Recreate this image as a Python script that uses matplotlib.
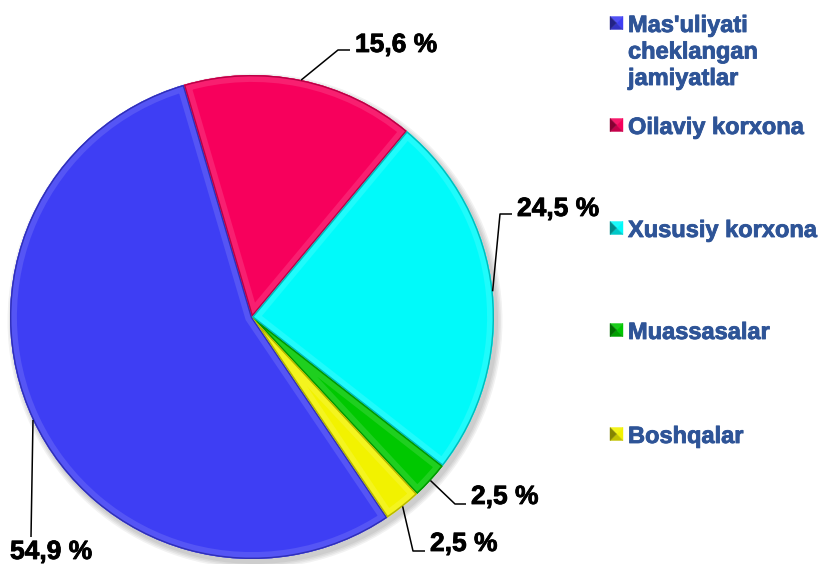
import matplotlib
matplotlib.use('Agg')
import matplotlib.pyplot as plt
from matplotlib.patches import Wedge, Polygon, Circle
import matplotlib.colors as mc
import matplotlib.patheffects as pe
import numpy as np

categories = ["Mas'uliyati\ncheklangan\njamiyatlar", "Oilaviy korxona",
              "Xususiy korxona", "Muassasalar", "Boshqalar"]
values = [54.9, 15.6, 24.5, 2.5, 2.5]
value_labels = ["54,9 %", "15,6 %", "24,5 %", "2,5 %", "2,5 %"]
colors = ["#3E3EF4", "#F7005C", "#00FAFA", "#00C800", "#F2F200"]

W, H = 823, 564
FONT = "Liberation Sans"
LEG_COLOR = "#2E5497"

fig = plt.figure(figsize=(W / 100, H / 100), dpi=100)
ax = fig.add_axes([0, 0, 1, 1])

cx, cy, R = 252, H - 317, 242


def mix(c, other, t):
    a = np.array(mc.to_rgb(c))
    b = np.array(mc.to_rgb(other))
    return tuple(a * (1 - t) + b * t)


# soft shadow
for i, a in enumerate([0.05, 0.05, 0.05, 0.05]):
    ax.add_patch(Circle((cx + 3, cy - 4), R + 1 + i * 1.5, facecolor='black',
                        alpha=a, edgecolor='none', zorder=0))

wedges, _ = ax.pie(values, colors=colors, startangle=-56, counterclock=False,
                   center=(cx, cy), radius=R, frame=True,
                   wedgeprops=dict(linewidth=0))

# bevel effect
for w, c in zip(wedges, colors):
    w.set_zorder(1)
    band = Wedge((cx, cy), R, w.theta1, w.theta2, facecolor='none',
                 edgecolor=mix(c, 'white', 0.12), linewidth=10, zorder=2)
    ax.add_patch(band)
    band.set_clip_path(w)
    edge = Wedge((cx, cy), R, w.theta1, w.theta2, facecolor='none',
                 edgecolor=mix(c, 'black', 0.25), linewidth=2.0, zorder=3)
    ax.add_patch(edge)
    edge.set_clip_path(w)

# data labels with leader lines (layout in pixel coords from top)
elbows = [[(31, 537)], [(338, 50), (350, 50)], [(500, 214), (512, 214)],
          [(455, 504), (466, 504)], [(413, 551), (425, 551)]]
text_pos = [(10, 552), (355, 45), (517, 209), (471, 497), (430, 544)]
for w, lab, el, tp in zip(wedges, value_labels, elbows, text_pos):
    mid = np.deg2rad((w.theta1 + w.theta2) / 2)
    ax_pt = (cx + R * np.cos(mid), cy + R * np.sin(mid))
    xs = [ax_pt[0]] + [p[0] for p in el]
    ys = [ax_pt[1]] + [H - p[1] for p in el]
    ax.plot(xs, ys, color='black', lw=1.1, zorder=4, solid_capstyle='butt')
    ax.text(tp[0], H - tp[1], lab, ha='left', va='center', fontsize=19,
            fontweight='bold', family=FONT, color='black', zorder=5,
            path_effects=[pe.withStroke(linewidth=0.6, foreground='black')])

# legend
leg_y = [23, 125, 228, 330, 434]
mx, ms = 610, 13
tx = 628
line_step = 26.5
for cat, c, y in zip(categories, colors, leg_y):
    yc = H - y
    x0, x1 = mx, mx + ms
    y0, y1 = yc - ms / 2, yc + ms / 2
    xm, ymid = (x0 + x1) / 2, yc
    tris = [
        ([(x0, y1), (x1, y1), (xm, ymid)], mix(c, 'white', 0.1)),   # top
        ([(x1, y1), (x1, y0), (xm, ymid)], c),                       # right
        ([(x0, y0), (x1, y0), (xm, ymid)], mix(c, 'black', 0.2)),   # bottom
        ([(x0, y1), (x0, y0), (xm, ymid)], mix(c, 'black', 0.45)),  # left
    ]
    for pts, fc in tris:
        ax.add_patch(Polygon(pts, closed=True, facecolor=fc, edgecolor=fc,
                             linewidth=0.3, zorder=5))
    for i, line in enumerate(cat.split("\n")):
        ax.text(tx, yc - i * line_step, line, ha='left', va='center_baseline',
                fontsize=17, fontweight='bold', family=FONT, color=LEG_COLOR,
                path_effects=[pe.withStroke(linewidth=0.6, foreground=LEG_COLOR)])

ax.set_xlim(0, W)
ax.set_ylim(0, H)
ax.set_aspect('auto')
ax.axis('off')
fig.savefig("out.png", dpi=100, facecolor='white')
